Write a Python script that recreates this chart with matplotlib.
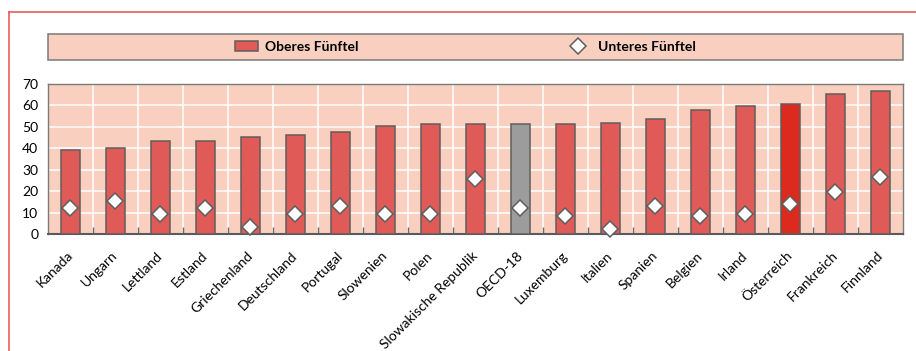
import numpy as np
import matplotlib
matplotlib.use("Agg")
import matplotlib.pyplot as plt
import matplotlib.transforms as mtransforms
from matplotlib.patches import Rectangle, Patch
from matplotlib.lines import Line2D

plt.rcParams["font.family"] = ["Lato", "DejaVu Sans"]

countries = ["Kanada", "Ungarn", "Lettland", "Estland", "Griechenland", "Deutschland",
             "Portugal", "Slowenien", "Polen", "Slowakische Republik", "OECD-18",
             "Luxemburg", "Italien", "Spanien", "Belgien", "Irland", "Österreich",
             "Frankreich", "Finnland"]
oberes = [39.0, 40.0, 43.4, 43.4, 45.3, 46.0, 47.8, 50.2, 51.2, 51.2, 51.2,
          51.2, 51.9, 53.8, 58.0, 59.7, 60.5, 65.5, 66.6]
unteres = [12.0, 15.4, 9.5, 12.0, 3.4, 9.5, 12.9, 9.5, 9.5, 25.7, 12.0,
           8.6, 2.5, 12.9, 8.6, 9.5, 13.8, 19.6, 26.4]
yticks = [0, 10, 20, 30, 40, 50, 60, 70]

BG = "#F9CFC0"
BAR = "#E05B58"
EDGE = "#5E5E5E"
colors = [BAR] * len(countries)
colors[countries.index("OECD-18")] = "#9C9C9C"
colors[countries.index("Österreich")] = "#DC2A1E"

fig = plt.figure(figsize=(9.16, 3.51), dpi=100)
ax = fig.add_axes([0.0524, 0.3333, 0.9334, 0.4274])
ax.set_facecolor(BG)

x = np.arange(len(countries))
ax.bar(x, oberes, width=0.41, color=colors, edgecolor=EDGE, linewidth=1.1, zorder=3)
ax.plot(x, unteres, ls="none", marker="D", ms=8.5, mfc="white", mec=EDGE, mew=1.1,
        zorder=4, clip_on=False)

ax.set_xlim(-0.5, len(countries) - 0.5)
ax.set_ylim(0, 70)
ax.set_yticks(yticks)
ax.set_yticklabels([str(v) for v in yticks], fontsize=10)
ax.tick_params(axis="y", length=0, pad=7)
ax.set_xticks(x)
ax.set_xticklabels(countries, rotation=45, ha="right", rotation_mode="anchor", fontsize=10)
ax.tick_params(axis="x", length=0, pad=11)
shift = mtransforms.ScaledTranslation(-3 / 72, 0, fig.dpi_scale_trans)
for lbl in ax.get_xticklabels():
    lbl.set_transform(lbl.get_transform() + shift)

# white grid: rows at each tick, columns between categories
for v in yticks[1:-1]:
    ax.axhline(v, color="white", lw=1.1, zorder=1)
for b in x[:-1] + 0.5:
    ax.axvline(b, color="white", lw=1.1, zorder=1)
ax.set_xticks(x[:-1] + 0.5, minor=True)
ax.tick_params(axis="x", which="minor", direction="in", length=5, width=1, color="#6a6a6a")

for s in ["top", "right", "left"]:
    ax.spines[s].set_color("#7a7a7a")
    ax.spines[s].set_linewidth(1.0)
ax.spines["bottom"].set_color("#5a5a5a")
ax.spines["bottom"].set_linewidth(1.5)

# legend band
fig.patches.append(Rectangle((0.0524, 0.829), 0.9334, 0.074, transform=fig.transFigure,
                             facecolor=BG, edgecolor="#7a7a7a", lw=1.1, zorder=0))
handles = [Patch(facecolor=BAR, edgecolor=EDGE, lw=1.1),
           Line2D([], [], ls="none", marker="D", ms=8.5, mfc="white", mec=EDGE, mew=1.1)]
fig.legend(handles, ["Oberes Fünftel", "Unteres Fünftel"], ncol=2, loc="center left",
           bbox_to_anchor=(0.2425, 0.866), frameon=False, columnspacing=15,
           handlelength=1.65, handletextpad=0.55, borderpad=0.4,
           prop={"weight": "bold", "size": 10})

# red frame on left and top
fig.add_artist(Line2D([0.0098, 0.0098], [0.0, 0.966], color="#E8605A", lw=1.2,
                      transform=fig.transFigure))
fig.add_artist(Line2D([0.0098, 1.0], [0.966, 0.966], color="#E8605A", lw=1.2,
                      transform=fig.transFigure))

fig.savefig("out.png", dpi=100, facecolor="white")
